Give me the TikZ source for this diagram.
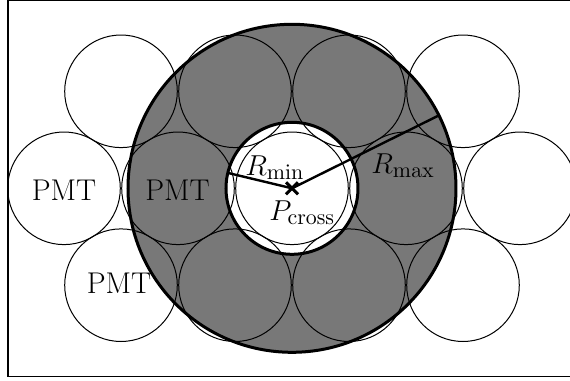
\documentclass[tikz,border=0pt]{standalone}
\usetikzlibrary{calc}
\begin{document}
\begin{tikzpicture}[x=0.5pt,y=-0.5pt,
  pmt/.style={draw=black,line width=0.5pt},
  ring/.style={draw=black,line width=1.5pt},
  radline/.style={draw=black,line width=1.2pt},
  lbl/.style={font=\fontsize{15}{18}\selectfont,inner sep=0pt}]
\useasboundingbox (0,0) rectangle (570,381);
\clip (0,0) rectangle (570,381);
% frame
\draw[line width=0.65pt] (8,0.7) rectangle (576,376.8);
% centre
\coordinate (c) at (292,188.3);
% gray annulus
\fill[black!53,even odd rule] (c) circle[radius=82pt] (c) circle[radius=33pt];
% PMT circles
\foreach \x in {64,178,292,406,520} {
  \draw[pmt] (\x,188.3) circle[radius=28.15pt];
}
\foreach \x in {121,235,349,463} {
  \draw[pmt] (\x,91.3) circle[radius=28.15pt];
  \draw[pmt] (\x,285.2) circle[radius=28.15pt];
}
% thick circles
\draw[ring] (c) circle[radius=82pt];
\draw[ring] (c) circle[radius=33pt];
% radius lines
\coordinate (rmin) at ($(c)+(-166.5:66)$);
\coordinate (rmax) at ($(c)+(-26.4:164)$);
\draw[radline] (c) -- (rmin);
\draw[radline] (c) -- (rmax);
% cross
\draw[line width=1.5pt] ($(c)+(-6,-6)$) -- ($(c)+(6,6)$);
\draw[line width=1.5pt] ($(c)+(-6,6)$) -- ($(c)+(6,-6)$);
% labels
\node[lbl] (p1) at (64,190) {PMT};
\node[lbl] (p2) at (177.5,190) {PMT};
\node[lbl] (p3) at (119,283.3) {PMT};
\node[lbl,anchor=base west] (lmin) at (245,175) {$R_{\min}$};
\node[lbl,anchor=base west] (lmax) at (371,173.3) {$R_{\max}$};
\node[lbl,anchor=base west] (lcross) at (269,220) {$P_{\mathrm{cross}}$};
\end{tikzpicture}
\end{document}
